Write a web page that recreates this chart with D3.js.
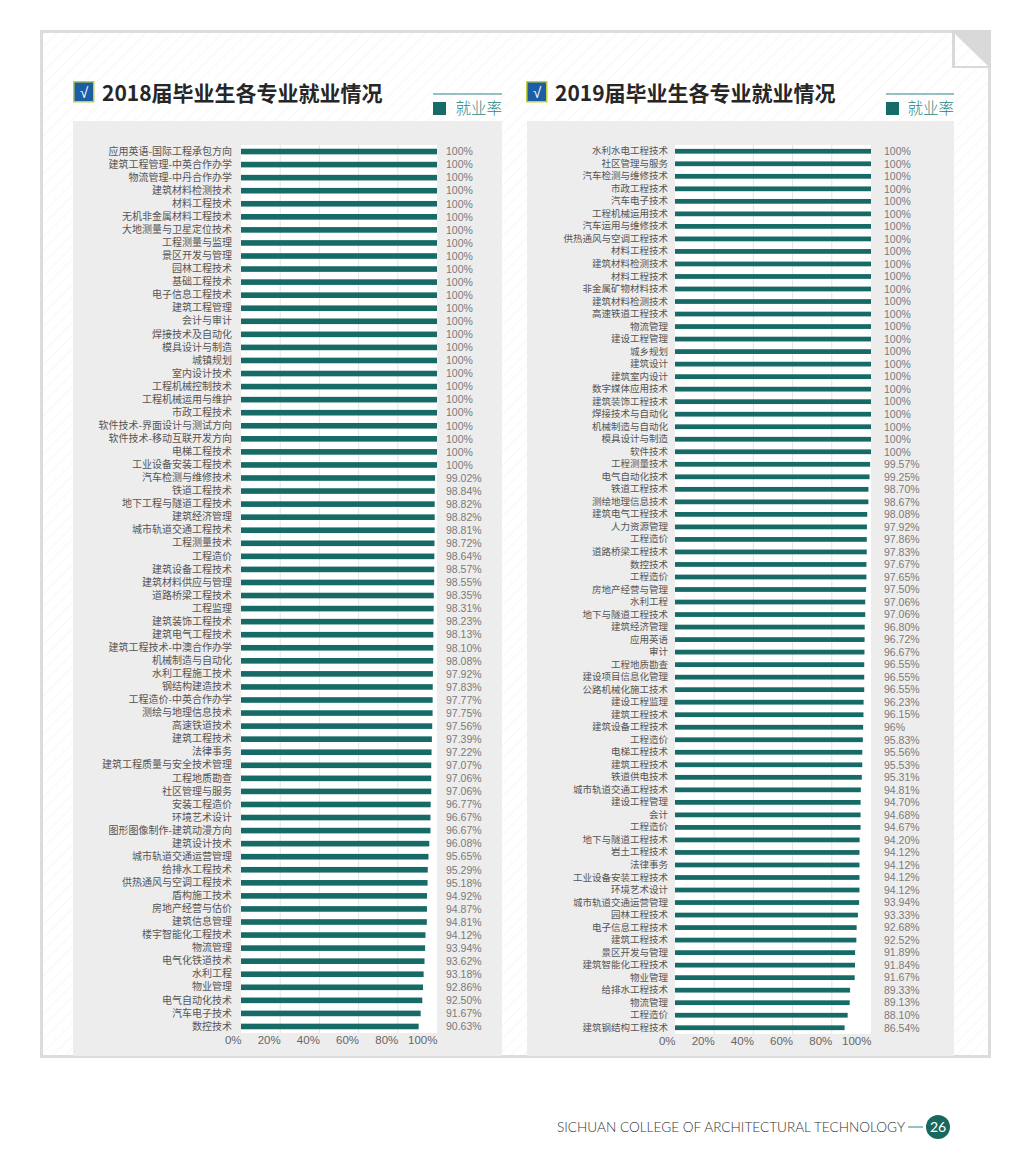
<!DOCTYPE html>
<html>
<head>
<meta charset="utf-8">
<script src="https://cdn.jsdelivr.net/npm/d3@7"></script>
<style>
  body { margin: 0; background: #fff; }
  svg { display: block; font-family: "Noto Sans CJK SC", "Noto Sans", sans-serif; }
</style>
</head>
<body>
<svg id="page" width="1024" height="1170"></svg>
<script>
// 2018 majors and employment rates (%)
const majors2018 = [
  '应用英语-国际工程承包方向', '建筑工程管理-中英合作办学', '物流管理-中丹合作办学', '建筑材料检测技术',
  '材料工程技术', '无机非金属材料工程技术', '大地测量与卫星定位技术', '工程测量与监理', '景区开发与管理',
  '园林工程技术', '基础工程技术', '电子信息工程技术', '建筑工程管理', '会计与审计', '焊接技术及自动化',
  '模具设计与制造', '城镇规划', '室内设计技术', '工程机械控制技术', '工程机械运用与维护', '市政工程技术',
  '软件技术-界面设计与测试方向', '软件技术-移动互联开发方向', '电梯工程技术', '工业设备安装工程技术',
  '汽车检测与维修技术', '铁道工程技术', '地下工程与隧道工程技术', '建筑经济管理', '城市轨道交通工程技术',
  '工程测量技术', '工程造价', '建筑设备工程技术', '建筑材料供应与管理', '道路桥梁工程技术', '工程监理',
  '建筑装饰工程技术', '建筑电气工程技术', '建筑工程技术-中澳合作办学', '机械制造与自动化', '水利工程施工技术',
  '钢结构建造技术', '工程造价-中英合作办学', '测绘与地理信息技术', '高速铁道技术', '建筑工程技术', '法律事务',
  '建筑工程质量与安全技术管理', '工程地质勘查', '社区管理与服务', '安装工程造价', '环境艺术设计',
  '图形图像制作-建筑动漫方向', '建筑设计技术', '城市轨道交通运营管理', '给排水工程技术', '供热通风与空调工程技术',
  '盾构施工技术', '房地产经营与估价', '建筑信息管理', '楼宇智能化工程技术', '物流管理', '电气化铁道技术',
  '水利工程', '物业管理', '电气自动化技术', '汽车电子技术', '数控技术'
];
const rates2018 = [
  100, 100, 100, 100, 100, 100, 100, 100, 100, 100, 100, 100, 100, 100, 100, 100, 100, 100, 100, 100, 100,
  100, 100, 100, 100, 99.02, 98.84, 98.82, 98.82, 98.81, 98.72, 98.64, 98.57, 98.55, 98.35, 98.31, 98.23,
  98.13, 98.10, 98.08, 97.92, 97.83, 97.77, 97.75, 97.56, 97.39, 97.22, 97.07, 97.06, 97.06, 96.77, 96.67,
  96.67, 96.08, 95.65, 95.29, 95.18, 94.92, 94.87, 94.81, 94.12, 93.94, 93.62, 93.18, 92.86, 92.50, 91.67, 90.63
];

// 2019 majors and employment rates (%)
const majors2019 = [
  '水利水电工程技术', '社区管理与服务', '汽车检测与维修技术', '市政工程技术', '汽车电子技术', '工程机械运用技术',
  '汽车运用与维修技术', '供热通风与空调工程技术', '材料工程技术', '建筑材料检测技术', '材料工程技术',
  '非金属矿物材料技术', '建筑材料检测技术', '高速铁道工程技术', '物流管理', '建设工程管理', '城乡规划', '建筑设计',
  '建筑室内设计', '数字媒体应用技术', '建筑装饰工程技术', '焊接技术与自动化', '机械制造与自动化', '模具设计与制造',
  '软件技术', '工程测量技术', '电气自动化技术', '铁道工程技术', '测绘地理信息技术', '建筑电气工程技术', '人力资源管理',
  '工程造价', '道路桥梁工程技术', '数控技术', '工程造价', '房地产经营与管理', '水利工程', '地下与隧道工程技术',
  '建筑经济管理', '应用英语', '审计', '工程地质勘查', '建设项目信息化管理', '公路机械化施工技术', '建设工程监理',
  '建筑工程技术', '建筑设备工程技术', '工程造价', '电梯工程技术', '建筑工程技术', '铁道供电技术', '城市轨道交通工程技术',
  '建设工程管理', '会计', '工程造价', '地下与隧道工程技术', '岩土工程技术', '法律事务', '工业设备安装工程技术',
  '环境艺术设计', '城市轨道交通运营管理', '园林工程技术', '电子信息工程技术', '建筑工程技术', '景区开发与管理',
  '建筑智能化工程技术', '物业管理', '给排水工程技术', '物流管理', '工程造价', '建筑钢结构工程技术'
];
const rates2019 = [
  100, 100, 100, 100, 100, 100, 100, 100, 100, 100, 100, 100, 100, 100, 100, 100, 100, 100, 100, 100, 100,
  100, 100, 100, 100, 99.57, 99.25, 98.70, 98.67, 98.08, 97.92, 97.86, 97.83, 97.67, 97.65, 97.50, 97.06,
  97.06, 96.80, 96.72, 96.67, 96.55, 96.55, 96.55, 96.23, 96.15, 96, 95.83, 95.56, 95.53, 95.31, 94.81,
  94.70, 94.68, 94.67, 94.20, 94.12, 94.12, 94.12, 94.12, 93.94, 93.33, 92.68, 92.52, 91.89, 91.84, 91.67,
  89.33, 89.13, 88.10, 86.54
];

const xTicks = [0, 20, 40, 60, 80, 100];
const legendLabel = '就业率';
const footerText = 'SICHUAN COLLEGE OF ARCHITECTURAL TECHNOLOGY';
const pageNumber = '26';

const teal = '#176b66';
const latin = '"Liberation Sans", Arial, sans-serif';
const svg = d3.select('#page');

// background stripes for the page
const defs = svg.append('defs');
const pat = defs.append('pattern')
  .attr('id', 'stripes')
  .attr('width', 9).attr('height', 9)
  .attr('patternUnits', 'userSpaceOnUse')
  .attr('patternTransform', 'rotate(45)');
pat.append('line')
  .attr('x1', 0).attr('y1', 0).attr('x2', 0).attr('y2', 9)
  .attr('stroke', '#efefef').attr('stroke-width', 1);

// page frame
svg.append('rect')
  .attr('x', 41.5).attr('y', 31.5).attr('width', 948).attr('height', 1025)
  .attr('fill', 'url(#stripes)')
  .attr('stroke', '#dcdcdc').attr('stroke-width', 3);

// folded corner top right
svg.append('rect')
  .attr('x', 952).attr('y', 30).attr('width', 39).attr('height', 38)
  .attr('fill', '#d9d9d9');
svg.append('path')
  .attr('d', 'M955,34 L955,66 L988,66 Z')
  .attr('fill', '#fff');
svg.append('path')
  .attr('d', 'M955,34 L955,66 L988,66 Z')
  .attr('fill', 'url(#stripes)');

const fmt = v => Number.isInteger(v) ? v + '%' : v.toFixed(2) + '%'

function drawChart(cfg) {
  const g = svg.append('g')

  // grey panel behind the chart
  g.append('rect')
    .attr('x', cfg.panel[0]).attr('y', 121)
    .attr('width', cfg.panel[1] - cfg.panel[0]).attr('height', 935)
    .attr('fill', '#ededed')

  // title with check box
  g.append('rect')
    .attr('x', cfg.boxX + 0.75).attr('y', 81.75).attr('width', 20).attr('height', 20)
    .attr('fill', '#1c5ea6').attr('stroke', '#c3d13c').attr('stroke-width', 1.5)
  g.append('text')
    .attr('x', cfg.boxX + 11).attr('y', 98)
    .attr('text-anchor', 'middle')
    .attr('fill', '#fff').style('font-size', '15px')
    .style('font-family', latin)
    .text('√')
  g.append('text')
    .attr('x', cfg.titleX).attr('y', 101)
    .attr('fill', '#262626')
    .style('font-size', '21px').style('font-weight', 700)
    .text(cfg.title)

  // legend
  g.append('line')
    .attr('x1', cfg.legend[0]).attr('x2', cfg.legend[1])
    .attr('y1', 94).attr('y2', 94)
    .attr('stroke', '#2a8580').attr('stroke-width', 1)
  g.append('rect')
    .attr('x', cfg.legend[0]).attr('y', 102).attr('width', 13).attr('height', 13)
    .attr('fill', teal)
  g.append('text')
    .attr('x', cfg.legend[1]).attr('y', 114)
    .attr('text-anchor', 'end')
    .attr('fill', '#2a8580')
    .style('font-size', '15.5px').style('font-weight', 300)
    .text(legendLabel)

  const x = d3.scaleLinear().domain([0, 100]).range(cfg.xRange)
  const y = d3.scaleBand()
    .domain(d3.range(cfg.majors.length))
    .range(cfg.yRange)
    .paddingInner(cfg.pad).paddingOuter(cfg.pad / 2)

  // white plot area and grid
  g.append('rect')
    .attr('x', cfg.xRange[0]).attr('y', cfg.yRange[0])
    .attr('width', cfg.xRange[1] - cfg.xRange[0])
    .attr('height', cfg.yRange[1] - cfg.yRange[0])
    .attr('fill', '#fff')
  g.selectAll('.grid')
    .data(xTicks.slice(1, -1))
    .enter().append('line')
    .attr('x1', d => x(d)).attr('x2', d => x(d))
    .attr('y1', cfg.yRange[0]).attr('y2', cfg.yRange[1])
    .attr('stroke', '#e4e4e4')

  // bars
  g.selectAll('.bar')
    .data(cfg.rates)
    .enter().append('rect')
    .attr('class', 'bar')
    .attr('x', x(0))
    .attr('y', (d, i) => y(i))
    .attr('width', d => x(d) - x(0))
    .attr('height', y.bandwidth())
    .attr('fill', teal)

  // value labels
  g.selectAll('.val')
    .data(cfg.rates)
    .enter().append('text')
    .attr('x', cfg.valueX)
    .attr('y', (d, i) => y(i) + y.bandwidth() / 2)
    .attr('dy', '0.36em')
    .attr('fill', '#7a7a7a')
    .style('font-size', '10.5px')
    .style('font-family', latin)
    .text(fmt)

  // category axis
  const yAxis = g.append('g')
    .attr('transform', `translate(${cfg.xRange[0]},0)`)
    .call(d3.axisLeft(y).tickSize(0).tickPadding(cfg.labelPad).tickFormat(i => cfg.majors[i]))
  yAxis.select('.domain').remove()
  yAxis.selectAll('text')
    .attr('fill', '#555')
    .style('font-size', cfg.labelSize)
    .style('font-family', '"Noto Sans CJK SC", sans-serif')

  // value axis
  const xAxis = g.append('g')
    .attr('transform', `translate(0,${cfg.yRange[1]})`)
    .call(d3.axisBottom(x).tickValues(xTicks).tickSize(0).tickPadding(3).tickFormat(d => d + '%'))
  xAxis.select('.domain').remove()
  xAxis.selectAll('text')
    .attr('text-anchor', 'end')
    .attr('fill', '#666')
    .style('font-size', '11.5px')
    .style('font-family', latin)
}

drawChart({
  title: '2018届毕业生各专业就业情况',
  majors: majors2018, rates: rates2018,
  panel: [73, 502], boxX: 73, titleX: 102, legend: [433, 502],
  xRange: [241, 437], yRange: [145, 1033], pad: 0.57,
  valueX: 446, labelPad: 9, labelSize: '10px'
})

drawChart({
  title: '2019届毕业生各专业就业情况',
  majors: majors2019, rates: rates2019,
  panel: [527, 954], boxX: 526, titleX: 555, legend: [886, 954],
  xRange: [675, 871], yRange: [145, 1034], pad: 0.62,
  valueX: 884, labelPad: 7, labelSize: '9.5px'
})

// footer
svg.append('text')
  .attr('x', 557).attr('y', 1132)
  .attr('fill', '#333')
  .attr('textLength', 348).attr('lengthAdjust', 'spacingAndGlyphs')
  .style('font-family', 'Lato, "Noto Sans", sans-serif')
  .style('font-size', '14px').style('font-weight', 300)
  .text(footerText)
svg.append('line')
  .attr('x1', 908).attr('x2', 923).attr('y1', 1127).attr('y2', 1127)
  .attr('stroke', '#2a8580').attr('stroke-width', 1)
svg.append('circle')
  .attr('cx', 938).attr('cy', 1127).attr('r', 12)
  .attr('fill', '#17695f')
svg.append('text')
  .attr('x', 938).attr('y', 1127).attr('dy', '0.35em')
  .attr('text-anchor', 'middle')
  .attr('fill', '#fff')
  .style('font-size', '14px')
  .style('font-family', 'Lato, "Noto Sans", sans-serif')
  .text(pageNumber)
</script>
</body>
</html>
